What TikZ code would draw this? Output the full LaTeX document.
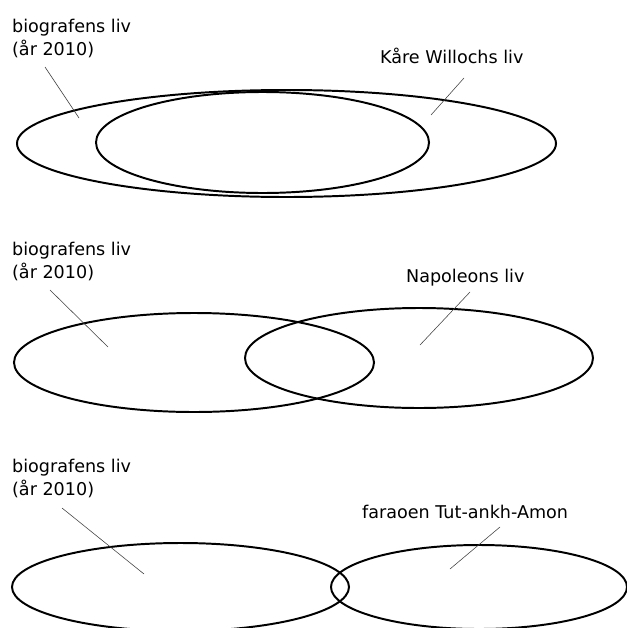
\documentclass[tikz,border=0pt]{standalone}
\usepackage{fontspec}
\setmainfont{DejaVu Sans}
\usetikzlibrary{shapes.geometric}

\tikzset{
  life/.style={ellipse,draw,line width=2.8pt,inner sep=0pt},
  lbl/.style={font=\fontsize{25}{32.7}\selectfont,inner sep=0pt,align=left,anchor=base west},
  leader/.style={draw=black!75,line width=0.8pt}
}

\begin{document}
\begin{tikzpicture}[x=0.5mm,y=-0.5mm]
    \useasboundingbox (0,0) rectangle (627,628);
    \clip (0,0) rectangle (627,628);

    % Kaare Willoch
    \node[life,minimum width=269.5mm,minimum height=53.5mm] (bioA) at (286.5,143.5) {};
    \node[life,minimum width=166.5mm,minimum height=50.5mm] (kare) at (262.5,142.5) {};
    \node[lbl] (bioAtxt) at (12,55) {biografens liv\\(år 2010)};
    \node[lbl] (karetxt) at (380,63) {Kåre Willochs liv};
    \coordinate (bioAs) at (45,67);  \coordinate (bioAe) at (79,118);
    \coordinate (kares) at (464,78); \coordinate (karee) at (431,115);
    \draw[leader] (bioAs) -- (bioAe);
    \draw[leader] (kares) -- (karee);

    % Napoleon
    \node[life,minimum width=180mm,minimum height=49.5mm] (bioB) at (194,362.5) {};
    \node[life,minimum width=174mm,minimum height=50mm] (napo) at (419,358) {};
    \node[lbl] (bioBtxt) at (12,278) {biografens liv\\(år 2010)};
    \node[lbl] (napotxt) at (406,282) {Napoleons liv};
    \coordinate (bioBs) at (50,290);  \coordinate (bioBe) at (108,347);
    \coordinate (napos) at (470,292); \coordinate (napoe) at (420,345);
    \draw[leader] (bioBs) -- (bioBe);
    \draw[leader] (napos) -- (napoe);

    % Tut-ankh-Amon
    \node[life,minimum width=168.5mm,minimum height=44mm] (bioC) at (180.5,587) {};
    \node[life,minimum width=148mm,minimum height=42mm] (tut) at (479,587) {};
    \node[lbl] (bioCtxt) at (12,495) {biografens liv\\(år 2010)};
    \node[lbl] (tuttxt) at (362,518) {faraoen Tut-ankh-Amon};
    \coordinate (bioCs) at (62,508);  \coordinate (bioCe) at (144,574);
    \coordinate (tuts) at (500,527);  \coordinate (tute) at (450,569);
    \draw[leader] (bioCs) -- (bioCe);
    \draw[leader] (tuts) -- (tute);
\end{tikzpicture}
\end{document}
